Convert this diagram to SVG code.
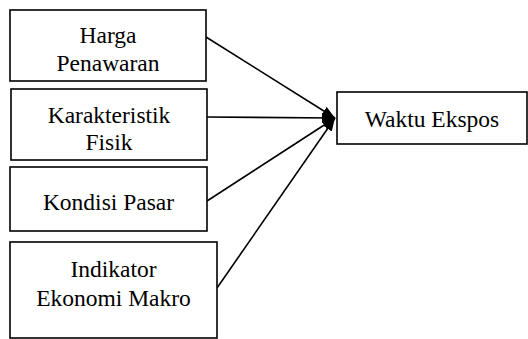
<svg xmlns="http://www.w3.org/2000/svg" width="528" height="339" viewBox="0 0 528 339">
<style>
.box{fill:#fff;stroke:#000;stroke-width:1.6}
.c{stroke:#000;stroke-width:1.6;fill:none}
</style>
<defs>
<marker id="ah" markerWidth="14" markerHeight="10" refX="13" refY="5" orient="auto" markerUnits="userSpaceOnUse">
<path d="M0,0 L13,5 L0,10 Z" fill="#000"/>
</marker>
</defs>
<rect width="528" height="339" fill="#fff"/>
<g id="connectors">
<line class="c" x1="206" y1="37" x2="335" y2="118" marker-end="url(#ah)"/>
<line class="c" x1="207" y1="117" x2="335" y2="118" marker-end="url(#ah)"/>
<line class="c" x1="207" y1="201" x2="335" y2="118" marker-end="url(#ah)"/>
<line class="c" x1="217" y1="288" x2="335" y2="118" marker-end="url(#ah)" stroke-width="1"/>
</g>
<g id="harga">
<rect class="box" x="10" y="10" width="196" height="71"/>
<text font-family="Liberation Serif" font-size="23.5" text-anchor="middle" x="108" y="43">Harga</text>
<text font-family="Liberation Serif" font-size="23.5" text-anchor="middle" x="108" y="71">Penawaran</text>
</g>
<g id="karakteristik">
<rect class="box" x="11" y="89" width="196" height="71"/>
<text font-family="Liberation Serif" font-size="23.5" text-anchor="middle" x="109" y="123">Karakteristik</text>
<text font-family="Liberation Serif" font-size="23.5" text-anchor="middle" x="109" y="150">Fisik</text>
</g>
<g id="kondisi">
<rect class="box" x="10" y="167" width="197" height="64"/>
<text font-family="Liberation Serif" font-size="23.5" text-anchor="middle" x="108.5" y="210">Kondisi Pasar</text>
</g>
<g id="indikator">
<rect class="box" x="10" y="242" width="207" height="96"/>
<text font-family="Liberation Serif" font-size="23.5" text-anchor="middle" x="113.5" y="277">Indikator</text>
<text font-family="Liberation Serif" font-size="23.5" text-anchor="middle" x="113.5" y="306">Ekonomi Makro</text>
</g>
<g id="waktu">
<rect class="box" x="337" y="92" width="190" height="52"/>
<text font-family="Liberation Serif" font-size="23.5" text-anchor="middle" x="432" y="127">Waktu Ekspos</text>
</g>
</svg>
